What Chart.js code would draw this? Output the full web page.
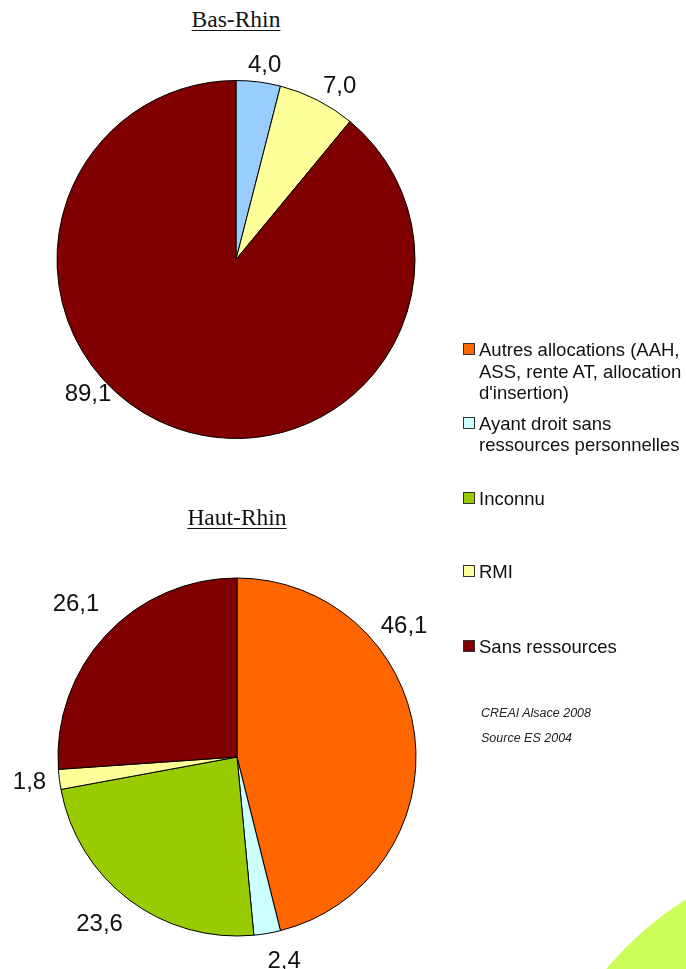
<!DOCTYPE html>
<html>
<head>
<meta charset="utf-8">
<script src="https://cdn.jsdelivr.net/npm/chart.js@4/dist/chart.umd.min.js"></script>
<style>
  html, body { margin: 0; padding: 0; background: #fff; }
  #page { position: relative; width: 686px; height: 969px; overflow: hidden; background: #fff; }
  .title { position: absolute; font-family: "Liberation Serif", "Times New Roman", serif; font-size: 23.5px; line-height: 23.5px; color: #111; text-decoration: underline; text-decoration-thickness: 1px; text-underline-offset: 3px; white-space: nowrap; transform: translateX(-50%); }
  canvas { position: absolute; }
  .leg { position: absolute; left: 463px; font-family: "Liberation Sans", Arial, sans-serif; font-size: 18.5px; line-height: 21.7px; color: #111; white-space: pre; }
  .leg .sw { position: absolute; left: 0; top: 4px; width: 10px; height: 10px; border: 1px solid #333; }
  .leg .tx { position: absolute; left: 16px; top: 0; }
  .src { position: absolute; left: 481px; font-family: "Liberation Sans", Arial, sans-serif; font-style: italic; font-size: 12.5px; line-height: 14px; color: #222; white-space: nowrap; }
  #blob { position: absolute; left: 530px; top: 850px; width: 660px; height: 660px; border-radius: 50%; background: #cdfd58; }
</style>
</head>
<body>
<div id="page">
  <div id="blob"></div>
  <div class="title" id="t1" style="left:236px; top:8px;"></div>
  <canvas id="c1" width="472" height="519" style="left:0; top:0;"></canvas>
  <div class="title" id="t2" style="left:237px; top:506px;"></div>
  <canvas id="c2" width="474" height="434" style="left:0; top:540px;"></canvas>
  <div id="legend"></div>
  <div class="src" id="s1" style="top:706px;"></div>
  <div class="src" id="s2" style="top:731px;"></div>
</div>
<script>
// ---- data ----
const categories = [
  "Autres allocations (AAH,\nASS, rente AT, allocation\nd'insertion)",
  "Ayant droit sans\nressources personnelles",
  "Inconnu",
  "RMI",
  "Sans ressources"
];
const titles = ["Bas-Rhin", "Haut-Rhin"];
const basRhinValues = [0, 4.0, 0, 7.0, 89.1];
const hautRhinValues = [46.1, 2.4, 23.6, 1.8, 26.1];
const basRhinColors = ["#ff6600", "#99ccff", "#99cc00", "#ffff99", "#800000"];
const hautRhinColors = ["#ff6600", "#ccffff", "#99cc00", "#ffff99", "#800000"];
const sourceLines = ["CREAI Alsace 2008", "Source ES 2004"];

// ---- layout (not data) ----
const legendTops = [339, 412.5, 487.5, 561, 636];
const basRhinTweaks = [{}, {da: 1.1, dr: 19}, {}, {da: 3.6, dr: 24.7}, {da: 28.4, dr: 19.6}];
const hautRhinTweaks = [{da: -31.5, dr: 34.5}, {da: -3.4, dr: 28.4}, {da: 2.7, dr: 35.8}, {da: 0.9, dr: 29.8}, {da: 0.8, dr: 44.1}];

document.getElementById('t1').textContent = titles[0];
document.getElementById('t2').textContent = titles[1];
document.getElementById('s1').textContent = sourceLines[0];
document.getElementById('s2').textContent = sourceLines[1];

const legend = document.getElementById('legend');
categories.forEach((c, i) => {
  const item = document.createElement('div');
  item.className = 'leg';
  item.style.top = legendTops[i] + 'px';
  const sw = document.createElement('div');
  sw.className = 'sw';
  sw.style.background = hautRhinColors[i];
  const tx = document.createElement('div');
  tx.className = 'tx';
  tx.textContent = c;
  item.appendChild(sw);
  item.appendChild(tx);
  legend.appendChild(item);
});

const fmt = v => v.toFixed(1).replace('.', ',');

const outsideLabels = {
  id: 'outsideLabels',
  afterDatasetsDraw(chart, args, opts) {
    const ctx = chart.ctx;
    const meta = chart.getDatasetMeta(0);
    const data = chart.data.datasets[0].data;
    ctx.save();
    ctx.font = opts.font;
    ctx.fillStyle = opts.color;
    ctx.textAlign = 'center';
    ctx.textBaseline = 'alphabetic';
    meta.data.forEach((arc, i) => {
      const v = data[i];
      if (!v) return;
      const t = (opts.tweaks && opts.tweaks[i]) || {};
      const a = (arc.startAngle + arc.endAngle) / 2 + (t.da || 0) * Math.PI / 180;
      const d = arc.outerRadius + (t.dr != null ? t.dr : 25);
      const x = arc.x + Math.cos(a) * d;
      const y = arc.y + Math.sin(a) * d;
      ctx.fillText(fmt(v), x, y + opts.capHalf);
    });
    ctx.restore();
  }
};

function makePie(id, values, colors, tweaks) {
  return new Chart(document.getElementById(id), {
    type: 'pie',
    data: {
      labels: categories.map(c => c.replace(/\n/g, ' ')),
      datasets: [{
        data: values,
        backgroundColor: colors,
        borderColor: '#000',
        borderWidth: 1
      }]
    },
    options: {
      responsive: false,
      animation: false,
      radius: 179,
      layout: { padding: 0 },
      plugins: {
        legend: { display: false },
        tooltip: { enabled: false },
        outsideLabels: {
          font: '24px "Liberation Sans", Arial, sans-serif',
          color: '#111',
          capHalf: 8.6,
          tweaks: tweaks
        }
      }
    },
    plugins: [outsideLabels]
  });
}

makePie('c1', basRhinValues, basRhinColors, basRhinTweaks);
makePie('c2', hautRhinValues, hautRhinColors, hautRhinTweaks);
</script>
</body>
</html>
